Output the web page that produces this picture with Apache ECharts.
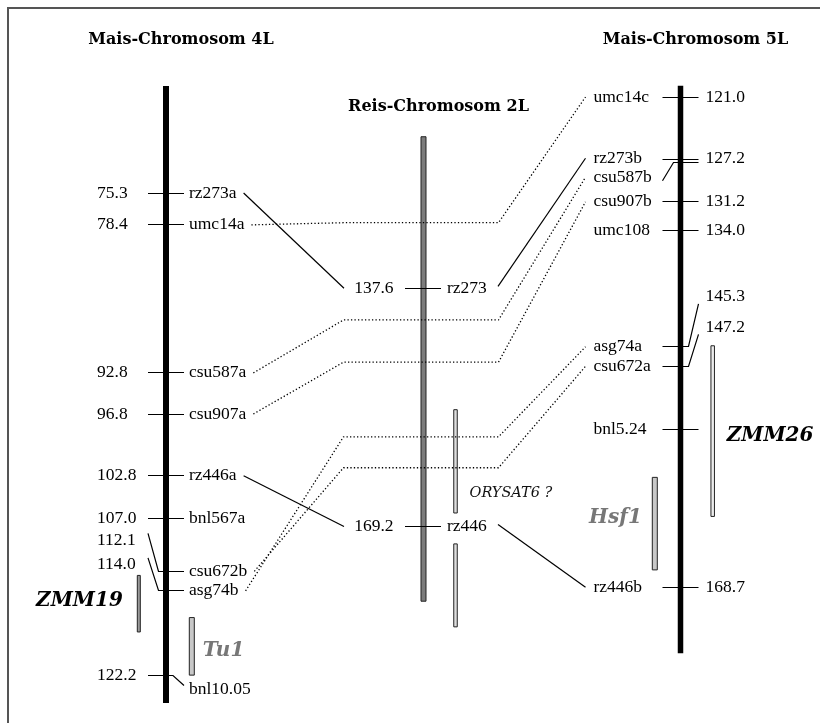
<!DOCTYPE html>
<html><head><meta charset="utf-8">
<script src="https://cdn.jsdelivr.net/npm/echarts@6/dist/echarts.min.js"></script>
<style>html,body{margin:0;padding:0;background:#fff}#c{width:820px;height:723px}</style>
</head><body><div id="c"></div>
<script>
// ---------------- data ----------------
const chromTitles = ['Mais-Chromosom 4L', 'Reis-Chromosom 2L', 'Mais-Chromosom 5L'];
const chromStart = [64.9, 117.5, 119.9];
const chromEnd = [124.9, 179.1, 175.1];

const markers4L = ['rz273a', 'umc14a', 'csu587a', 'csu907a', 'rz446a', 'bnl567a', 'csu672b', 'asg74b', 'bnl10.05'];
const pos4L = [75.3, 78.4, 92.8, 96.8, 102.8, 107.0, 112.1, 114.0, 122.2];
const tickLabels4L = ['75.3', '78.4', '92.8', '96.8', '102.8', '107.0', '112.1', '114.0', '122.2'];

const markers2L = ['rz273', 'rz446'];
const pos2L = [137.6, 169.2];
const tickLabels2L = ['137.6', '169.2'];

const markers5L = ['umc14c', 'rz273b', 'csu587b', 'csu907b', 'umc108', 'asg74a', 'csu672a', 'bnl5.24', 'rz446b'];
const pos5L = [121.0, 127.2, 127.2, 131.2, 134.0, 145.3, 147.2, 153.3, 168.7];
const tickLabels5L = ['121.0', '127.2', '', '131.2', '134.0', '145.3', '147.2', '', '168.7'];

const qtlNames = ['ZMM19', 'Tu1', 'ORYSAT6 ?', '', 'ZMM26', 'Hsf1'];
const qtlChrom = [0, 0, 1, 1, 2, 2];
const qtlStart = [112.5, 116.6, 153.7, 171.5, 145.2, 158.0];
const qtlEnd = [118.0, 122.2, 167.4, 182.5, 161.8, 167.0];

const solidFrom = ['rz273a', 'rz273', 'rz446a', 'rz446'];
const solidTo = ['rz273', 'rz273b', 'rz446', 'rz446b'];
const dottedFrom = ['umc14a', 'csu587a', 'csu907a', 'asg74b', 'csu672b'];
const dottedTo = ['umc14c', 'csu587b', 'csu907b', 'asg74a', 'csu672a'];
const dottedVia2L = [128.9, 141.8, 147.4, 157.3, 161.4];

// ---------------- layout ----------------
const W = 820, H = 723;
const CX = [166, 423.5, 680.5];
const PX_PER_CM = [10.28, 7.54, 10.28];
const ANCHOR_CM = [75.3, 137.6, 121.0];
const ANCHOR_PX = [193, 288.3, 97];
const BAR_W = [6, 5, 5.5];
const BAR_FILL = ['#000', '#7c7c7c', '#000'];
const QTL_X = [138.8, 191.8, 455.5, 455.5, 712.7, 654.8];
const QTL_W = [3, 5, 3.5, 3.5, 3.5, 5];
const QTL_FILL = ['#9a9a9a', '#c8c8c8', '#dedede', '#dedede', '#ececec', '#c8c8c8'];
const QTL_LABEL = [
  {dx: -16, dy: -3, align: 'right', color: '#000'},
  {dx: 11, dy: 4, align: 'left', color: '#777'},
  {dx: 14, dy: 31.5, align: 'left', color: '#111'},
  null,
  {dx: 14, dy: 5, align: 'left', color: '#000'},
  {dx: -13, dy: -6, align: 'right', color: '#777'}
];

const FONT = '"Liberation Serif", "Times New Roman", serif';
const FS = 17.5;
const INK = '#000';

const chart = echarts.init(document.getElementById('c'));

function yAxisFor(k) {
  const min = ANCHOR_CM[k] - ANCHOR_PX[k] / PX_PER_CM[k];
  return {type: 'value', inverse: true, min: min, max: min + H / PX_PER_CM[k], show: false, gridIndex: 0};
}
function txt(text, x, y, align, extra) {
  return {type: 'text', x: x, y: y, style: Object.assign({text: text, fill: INK, fontSize: FS, fontFamily: FONT, align: align, verticalAlign: 'middle'}, extra || {})};
}
const LST = {stroke: INK, lineWidth: 1.2, fill: 'none'};
function cr(v) { return Math.round(v - 0.5) + 0.5; }

function lay4L(name, y) {
  const r = {tickY: cr(y), nameY: y, valY: y, kind: 'plain'};
  if (name === 'csu672b') { r.valY = y - 31; r.kind = 'lead'; }
  if (name === 'asg74b') { r.valY = y - 26; r.kind = 'lead'; }
  if (name === 'bnl10.05') { r.nameY = y + 14; r.kind = 'kink'; }
  return r;
}
function lay5L(name, y) {
  const r = {tickY: cr(y), nameY: y, valY: y, kind: 'plain'};
  if (name === 'rz273b') { r.tickY = cr(y - 1.5); r.nameY = y - 2.5; r.valY = y - 2.5; }
  if (name === 'csu587b') { r.tickY = cr(y + 1.5); r.nameY = y + 16.5; r.kind = 'leadL'; }
  if (name === 'asg74a') { r.valY = y - 50; r.kind = 'leadR'; }
  if (name === 'csu672a') { r.valY = y - 39; r.kind = 'leadR'; }
  return r;
}

function render4L(params, api) {
  const i = api.value(2);
  const p = api.coord([api.value(0), api.value(1)]);
  const cx = p[0];
  const L = lay4L(markers4L[i], p[1]);
  const ch = [];
  if (L.kind === 'lead') ch.push({type: 'polyline', shape: {points: [[cx - 18, L.valY - 7], [cx - 7.5, L.tickY], [cx + 18, L.tickY]]}, style: LST});
  else if (L.kind === 'kink') ch.push({type: 'polyline', shape: {points: [[cx - 18, L.tickY], [cx + 7, L.tickY], [cx + 18, L.tickY + 10]]}, style: LST});
  else ch.push({type: 'line', shape: {x1: cx - 18, y1: L.tickY, x2: cx + 18, y2: L.tickY}, style: LST});
  ch.push(txt(tickLabels4L[i], cx - 69, L.valY, 'left'));
  ch.push(txt(markers4L[i], cx + 23, L.nameY, 'left'));
  return {type: 'group', children: ch};
}
function render2L(params, api) {
  const i = api.value(2);
  const p = api.coord([api.value(0), api.value(1)]);
  const cx = p[0], y = cr(p[1]);
  return {type: 'group', children: [
    {type: 'line', shape: {x1: cx - 18.5, y1: y, x2: cx + 17.5, y2: y}, style: LST},
    txt(tickLabels2L[i], cx - 30, p[1], 'right'),
    txt(markers2L[i], cx + 23.5, p[1], 'left')
  ]};
}
function render5L(params, api) {
  const i = api.value(2);
  const p = api.coord([api.value(0), api.value(1)]);
  const cx = p[0];
  const name = markers5L[i];
  const L = lay5L(name, p[1]);
  const ch = [];
  if (L.kind === 'leadL') ch.push({type: 'polyline', shape: {points: [[cx - 18, L.nameY + 3.5], [cx - 7, L.tickY], [cx + 18, L.tickY]]}, style: LST});
  else if (L.kind === 'leadR') ch.push({type: 'polyline', shape: {points: [[cx - 18, L.tickY], [cx + 8, L.tickY], [cx + 18, L.valY + 7]]}, style: LST});
  else ch.push({type: 'line', shape: {x1: cx - 18, y1: L.tickY, x2: cx + 18, y2: L.tickY}, style: LST});
  if (tickLabels5L[i]) ch.push(txt(tickLabels5L[i], cx + 25, L.valY, 'left'));
  ch.push(txt(name, cx - 87, L.nameY, 'left'));
  return {type: 'group', children: ch};
}
function renderBar(params, api) {
  const k = api.value(3);
  const a = api.coord([api.value(0), api.value(1)]);
  const b = api.coord([api.value(0), api.value(2)]);
  const w = BAR_W[k];
  return {type: 'rect', shape: {x: a[0] - w / 2, y: a[1], width: w, height: b[1] - a[1]},
    style: {fill: BAR_FILL[k], stroke: k === 1 ? '#222' : null, lineWidth: 1}};
}
function renderQtl(params, api) {
  const i = api.value(3);
  const a = api.coord([api.value(0), api.value(1)]);
  const b = api.coord([api.value(0), api.value(2)]);
  const w = QTL_W[i];
  const ch = [{type: 'rect', shape: {x: a[0] - w / 2, y: a[1], width: w, height: b[1] - a[1]},
    style: {fill: QTL_FILL[i], stroke: '#222', lineWidth: 1}}];
  const lb = QTL_LABEL[i];
  if (lb && qtlNames[i]) {
    const isOry = qtlNames[i].indexOf('ORYSAT') === 0;
    ch.push({type: 'text', x: a[0] + lb.dx, y: (a[1] + b[1]) / 2 + lb.dy, style: {
      text: qtlNames[i], fill: lb.color, align: lb.align, verticalAlign: 'middle',
      fontFamily: '"DejaVu Serif", serif', fontStyle: 'italic',
      fontWeight: isOry ? 'normal' : 'bold', fontSize: isOry ? 14.5 : 20
    }});
  }
  return {type: 'group', children: ch};
}

const baseSeries = [];
for (let k = 0; k < 3; k++) {
  baseSeries.push({type: 'custom', coordinateSystem: 'cartesian2d', xAxisIndex: 0, yAxisIndex: k, z: 1,
    renderItem: renderBar, data: [[CX[k], chromStart[k], chromEnd[k], k]], silent: true});
  const qd = [];
  qtlNames.forEach((n, i) => { if (qtlChrom[i] === k) qd.push([QTL_X[i], qtlStart[i], qtlEnd[i], i]); });
  baseSeries.push({type: 'custom', coordinateSystem: 'cartesian2d', xAxisIndex: 0, yAxisIndex: k, z: 2,
    renderItem: renderQtl, data: qd, silent: true});
}
baseSeries.push({type: 'custom', coordinateSystem: 'cartesian2d', xAxisIndex: 0, yAxisIndex: 0, z: 3,
  renderItem: render4L, data: pos4L.map((v, i) => [CX[0], v, i]), silent: true});
baseSeries.push({type: 'custom', coordinateSystem: 'cartesian2d', xAxisIndex: 0, yAxisIndex: 1, z: 3,
  renderItem: render2L, data: pos2L.map((v, i) => [CX[1], v, i]), silent: true});
baseSeries.push({type: 'custom', coordinateSystem: 'cartesian2d', xAxisIndex: 0, yAxisIndex: 2, z: 3,
  renderItem: render5L, data: pos5L.map((v, i) => [CX[2], v, i]), silent: true});

const graphics = [
  {type: 'rect', shape: {x: 8, y: 8, width: 840, height: 740}, style: {fill: null, stroke: '#555', lineWidth: 2}, silent: true}
];
chromTitles.forEach((t, k) => {
  graphics.push({type: 'text', x: CX[k] + 15, y: k === 1 ? 107 : 40, silent: true,
    style: {text: t, align: 'center', verticalAlign: 'middle', fill: INK,
      fontFamily: '"DejaVu Serif", serif', fontWeight: 'bold', fontSize: 16}});
});

chart.setOption({
  animation: false,
  backgroundColor: '#fff',
  grid: {left: 0, right: 0, top: 0, bottom: 0, containLabel: false},
  xAxis: {type: 'value', min: 0, max: W, show: false},
  yAxis: [yAxisFor(0), yAxisFor(1), yAxisFor(2)],
  graphic: graphics,
  series: baseSeries
});

// ---------- connections (computed through the axes) ----------
const measure = (() => { const c = document.createElement('canvas').getContext('2d'); c.font = FS + 'px ' + FONT; return s => c.measureText(s).width; })();
function pix(k, x, v) { return chart.convertToPixel({xAxisIndex: 0, yAxisIndex: k}, [x, v]); }
function toData(pt) { return chart.convertFromPixel({xAxisIndex: 0, yAxisIndex: 0}, pt); }
function endLeft(name) {
  const i = markers4L.indexOf(name);
  const p = pix(0, CX[0], pos4L[i]);
  const L = lay4L(name, p[1]);
  return [p[0] + 23 + measure(name) + 7, L.nameY];
}
function riceY(name) { const i = markers2L.indexOf(name); return pix(1, CX[1], pos2L[i])[1]; }
function endRight(name) {
  const i = markers5L.indexOf(name);
  const p = pix(2, CX[2], pos5L[i]);
  const L = lay5L(name, p[1]);
  return [CX[2] - 95, L.nameY];
}
const linkSeries = [];
function addLine(pts, dotted) {
  linkSeries.push({type: 'line', xAxisIndex: 0, yAxisIndex: 0, z: 4, silent: true, symbol: 'none', showSymbol: false,
    data: pts.map(toData), lineStyle: {color: '#000', width: dotted ? 1.3 : 1.2, type: dotted ? [1.3, 2.2] : 'solid'}});
}
solidFrom.forEach((f, i) => {
  const t = solidTo[i];
  if (markers4L.indexOf(f) >= 0) addLine([endLeft(f), [CX[1] - 79.5, riceY(t)]], false);
  else addLine([[CX[1] + 74.5, riceY(f) - 2], endRight(t)], false);
});
dottedFrom.forEach((f, i) => {
  const vy = pix(1, CX[1], dottedVia2L[i])[1];
  addLine([endLeft(f), [CX[1] - 80, vy], [CX[1] + 75, vy], endRight(dottedTo[i])], true);
});
chart.setOption({series: baseSeries.concat(linkSeries)});
</script></body></html>
